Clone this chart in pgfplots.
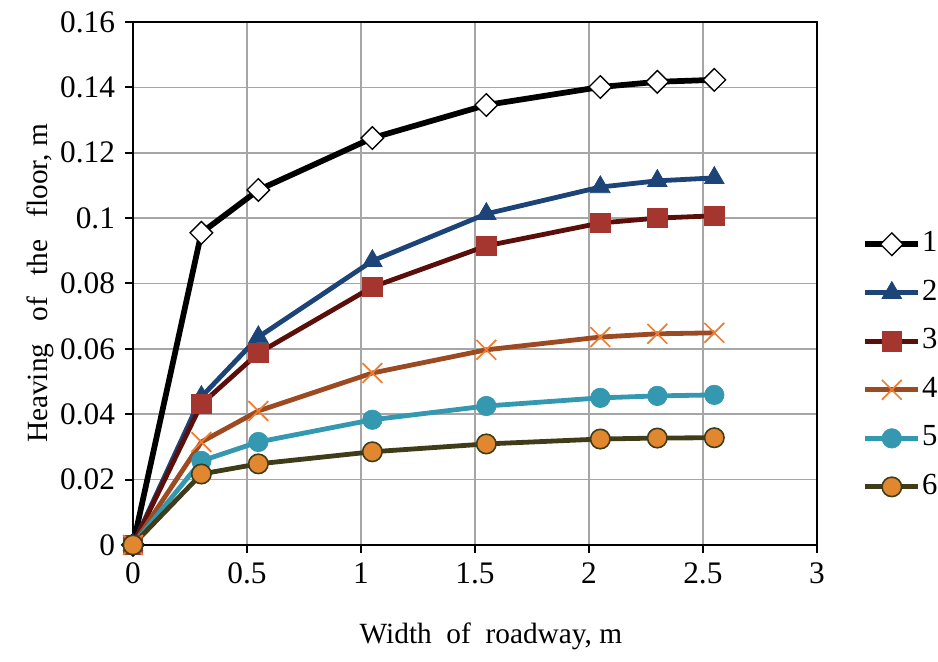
\documentclass[border=0pt]{standalone}
\usepackage{fontspec}
\setmainfont{Liberation Serif}
\usepackage{pgfplots}
\pgfplotsset{compat=1.18}
\definecolor{c2}{HTML}{1C4478}
\definecolor{c3l}{HTML}{5C0F0A}
\definecolor{c3m}{HTML}{A5352F}
\definecolor{c4l}{HTML}{9C4A22}
\definecolor{c4m}{HTML}{F07D2D}
\definecolor{c5}{HTML}{3498B0}
\definecolor{c6l}{HTML}{3F3D19}
\definecolor{c6m}{HTML}{E08730}
\definecolor{gridc}{HTML}{A6A6A6}
\begin{document}
\begin{tikzpicture}
\path (0pt,0pt) rectangle (703.5pt,496.5pt);
\begin{axis}[
  at={(99.75pt,87.75pt)}, anchor=south west,
  scale only axis, width=513pt, height=392.25pt,
  xmin=0, xmax=3, ymin=0, ymax=0.16,
  xtick={0,0.5,1,1.5,2,2.5,3},
  xticklabels={0,0.5,1,1.5,2,2.5,3},
  ytick={0,0.02,0.04,0.06,0.08,0.1,0.12,0.14,0.16},
  yticklabels={0,0.02,0.04,0.06,0.08,0.1,0.12,0.14,0.16},
  tick align=outside, major tick length=6pt,
  tick style={black, line width=1.5pt},
  xtick pos=bottom, ytick pos=left,
  axis line style={black, line width=1.8pt},
  grid=major, major grid style={gridc, line width=1.2pt},
  ticklabel style={font=\fontsize{23.5}{26}\selectfont},
  xticklabel style={yshift=-4pt},
  yticklabel style={xshift=-4pt},
  xlabel={Width\ \ of\ \ roadway, m},
  ylabel={Heaving\ \ \ of\ \ \ the\ \ \ floor, m},
  label style={font=\fontsize{22}{24}\selectfont},
  xlabel style={yshift=-22pt, xshift=12pt},
  ylabel style={yshift=-2pt},
  legend style={at={(1.066,0.343)}, anchor=west, draw=none, fill=none,
    font=\fontsize{23}{26}\selectfont, row sep=14.4pt, inner sep=0pt,
    nodes={inner sep=0.5pt, text height=16pt, text depth=5pt}},
  legend cell align=left,
  legend image code/.code={\draw[mark repeat=2,mark phase=2] plot coordinates {(0pt,0pt) (20pt,0pt) (40pt,0pt)};},
  clip=false,
]
\addplot[black, line width=4.3pt, mark=square*, mark size=6pt,
  mark options={solid, rotate=45, fill=white, draw=black, line width=1pt}]
  coordinates {(0,0) (0.3,0.0955) (0.55,0.1086) (1.05,0.1245) (1.55,0.1346) (2.05,0.1401) (2.3,0.1417) (2.55,0.1423)};
\addlegendentry{1}
\addplot[c2, line width=3.6pt, mark=triangle*, mark size=8.5pt,
  mark options={solid, fill=c2, draw=c2, line width=0.5pt}]
  coordinates {(0,0) (0.3,0.0453) (0.55,0.0636) (1.05,0.0869) (1.55,0.1013) (2.05,0.1095) (2.3,0.1114) (2.55,0.1123)};
\addlegendentry{2}
\addplot[c3l, line width=3.6pt, mark=square*, mark size=7.2pt,
  mark options={solid, fill=c3m, draw=c3m, line width=0.5pt}]
  coordinates {(0,0) (0.3,0.0431) (0.55,0.0587) (1.05,0.0789) (1.55,0.0915) (2.05,0.0985) (2.3,0.1000) (2.55,0.1007)};
\addlegendentry{3}
\addplot[c4l, line width=3.6pt, mark=x, mark size=10.5pt,
  mark options={solid, draw=c4m, line width=1.3pt}]
  coordinates {(0,0) (0.3,0.0315) (0.55,0.0410) (1.05,0.0526) (1.55,0.0597) (2.05,0.0636) (2.3,0.0646) (2.55,0.0649)};
\addlegendentry{4}
\addplot[c5, line width=3.6pt, mark=*, mark size=7.3pt,
  mark options={solid, fill=c5, draw=c5, line width=0.5pt}]
  coordinates {(0,0) (0.3,0.0257) (0.55,0.0315) (1.05,0.0383) (1.55,0.0425) (2.05,0.0450) (2.3,0.0456) (2.55,0.0459)};
\addlegendentry{5}
\addplot[c6l, line width=3.6pt, mark=*, mark size=7.3pt,
  mark options={solid, fill=c6m, draw=c6l, line width=1.2pt}]
  coordinates {(0,0) (0.3,0.0217) (0.55,0.0248) (1.05,0.0285) (1.55,0.0309) (2.05,0.0324) (2.3,0.0327) (2.55,0.0328)};
\addlegendentry{6}
\end{axis}
\end{tikzpicture}
\end{document}
